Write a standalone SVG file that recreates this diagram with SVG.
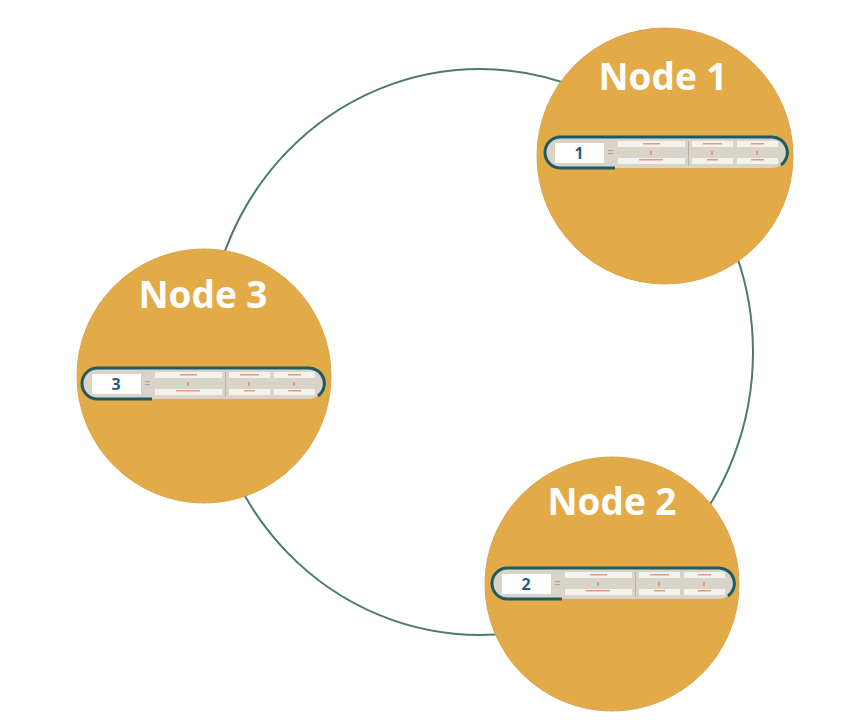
<svg xmlns="http://www.w3.org/2000/svg" xmlns:xlink="http://www.w3.org/1999/xlink" width="848" height="728" viewBox="0 0 848 728">
<style>
.node{fill:#e3aa48;stroke:#dba24a;stroke-width:1}
.title{font-family:"Open Sans","Liberation Sans",sans-serif;font-weight:700;font-size:37px;fill:#ffffff;text-anchor:middle}
.num{font-family:"Open Sans","Liberation Sans",sans-serif;font-weight:700;font-size:16px;fill:#1f5f86;text-anchor:middle}
.ring{fill:none;stroke:#4c7c68;stroke-width:2}
.cell{fill:#f5f2ee}
.mark{fill:#e59a7a}
</style>
<defs>
<g id="tbl">
<rect x="0" y="0" width="242" height="31" rx="15.5" fill="#d9d4ca"/>
<path d="M70,31 H15.5 A15.5,15.5 0 0 1 15.5,0 H226.5 A15.5,15.5 0 0 1 236,28" fill="none" stroke="#1e5a64" stroke-width="3"/>
<rect x="10" y="6" width="49" height="20" fill="#ffffff"/>
<rect x="63" y="13" width="5" height="1.2" fill="#aaa59b"/>
<rect x="63" y="16" width="5" height="1.2" fill="#aaa59b"/>
<rect class="cell" x="73" y="4" width="67" height="6"/>
<rect class="cell" x="147" y="4" width="41" height="6"/>
<rect class="cell" x="192" y="4" width="41" height="6"/>
<rect class="cell" x="73" y="21" width="67" height="6"/>
<rect class="cell" x="147" y="21" width="41" height="6"/>
<rect class="cell" x="192" y="21" width="41" height="6"/>
<rect x="143" y="4" width="1" height="25" fill="#b8b2a6"/>
<rect class="mark" x="98" y="6" width="17" height="1.5"/>
<rect class="mark" x="158" y="6" width="19" height="1.5"/>
<rect class="mark" x="206" y="6" width="13" height="1.5"/>
<rect class="mark" x="105" y="14" width="2" height="4"/>
<rect class="mark" x="166" y="14" width="2" height="4"/>
<rect class="mark" x="211" y="14" width="2" height="4"/>
<rect class="mark" x="94" y="22" width="24" height="1.5"/>
<rect class="mark" x="162" y="22" width="11" height="1.5"/>
<rect class="mark" x="206" y="22" width="13" height="1.5"/>
</g>
</defs>
<rect width="848" height="728" fill="#ffffff"/>
<g id="connectors">
<ellipse class="ring" cx="480" cy="352" rx="273" ry="283"/>
</g>
<g id="node1">
<circle class="node" cx="665" cy="156" r="128"/>
<text class="title" x="663" y="90">Node 1</text>
<use xlink:href="#tbl" x="545" y="137"/>
<text class="num" x="579" y="159">1</text>
</g>
<g id="node3">
<circle class="node" cx="204" cy="376" r="127"/>
<text class="title" x="203" y="308">Node 3</text>
<use xlink:href="#tbl" x="82" y="368"/>
<text class="num" x="116" y="390">3</text>
</g>
<g id="node2">
<circle class="node" cx="612" cy="584" r="127"/>
<text class="title" x="612" y="515">Node 2</text>
<use xlink:href="#tbl" x="492" y="568"/>
<text class="num" x="526" y="590">2</text>
</g>
</svg>
